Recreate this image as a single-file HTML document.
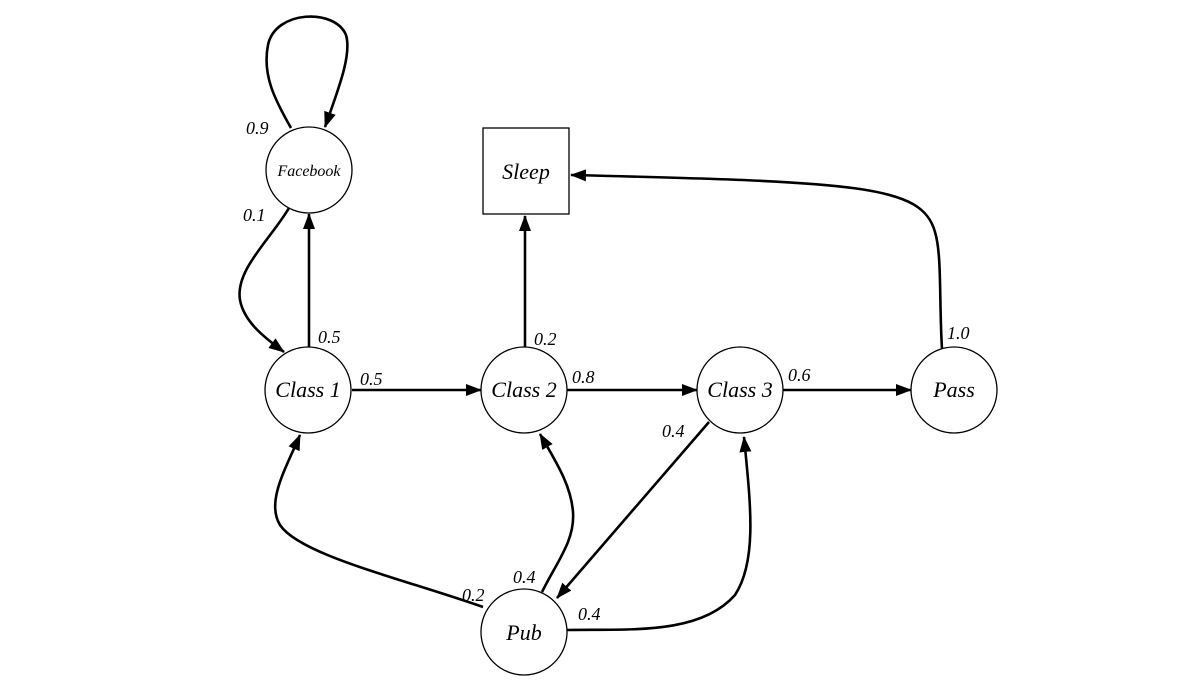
<!DOCTYPE html>
<html><head><meta charset="utf-8"><style>
html,body{margin:0;padding:0;background:#fff;}
svg{display:block;}
text{font-family:"Liberation Serif",serif;font-style:italic;fill:#000;}
</style></head><body>
<svg width="1202" height="692" viewBox="0 0 1202 692" xmlns="http://www.w3.org/2000/svg">
<defs>
<marker id="a" markerWidth="16" markerHeight="12" refX="15" refY="6" orient="auto" markerUnits="userSpaceOnUse">
<path d="M0,0 L16,6 L0,12 Z" fill="#000"/>
</marker>
</defs>
<g fill="none" stroke="#000" stroke-width="2.6" marker-end="url(#a)">
<path d="M291,128 C275,100 262,75 268,45 C275,10 335,8 346,35 C352,55 338,90 325,127"/>
<path d="M289,208 C270,240 235,270 240,300 C244,322 265,338 284,352"/>
<path d="M309,347 L309,214"/>
<path d="M525,347 L525,216"/>
<path d="M942,349 C939,300 942,255 935,232 C922,185 860,182 571,175"/>
<path d="M352,390 L481,390"/>
<path d="M566,390 L697,390"/>
<path d="M783,390 L911,390"/>
<path d="M709,422 L557,598"/>
<path d="M483,607 C400,578 300,555 280,525 C266,502 285,470 300,435"/>
<path d="M542,592 C558,560 575,540 573,512 C571,485 556,462 540,434"/>
<path d="M567,630 C630,629 700,635 735,595 C758,560 750,500 744,437"/>
</g>
<g fill="#fff" stroke="#000" stroke-width="1.3">
<circle cx="309" cy="170" r="43"/>
<rect x="483" y="128" width="86" height="86"/>
<circle cx="308" cy="390" r="43"/>
<circle cx="524" cy="390" r="43"/>
<circle cx="740" cy="390" r="43"/>
<circle cx="954" cy="390" r="43"/>
<circle cx="524" cy="632" r="43"/>
</g>
<g text-anchor="middle" font-size="22">
<text x="309" y="176" font-size="16">Facebook</text>
<text x="526" y="179">Sleep</text>
<text x="308" y="397">Class 1</text>
<text x="524" y="397">Class 2</text>
<text x="740" y="397">Class 3</text>
<text x="954" y="397">Pass</text>
<text x="524" y="640">Pub</text>
</g>
<g font-size="18">
<text x="246" y="134">0.9</text>
<text x="243" y="221">0.1</text>
<text x="318" y="343">0.5</text>
<text x="360" y="385">0.5</text>
<text x="534" y="345">0.2</text>
<text x="572" y="383">0.8</text>
<text x="788" y="381">0.6</text>
<text x="947" y="339">1.0</text>
<text x="662" y="437">0.4</text>
<text x="462" y="601">0.2</text>
<text x="513" y="583">0.4</text>
<text x="578" y="620">0.4</text>
</g>
</svg>
</body></html>
